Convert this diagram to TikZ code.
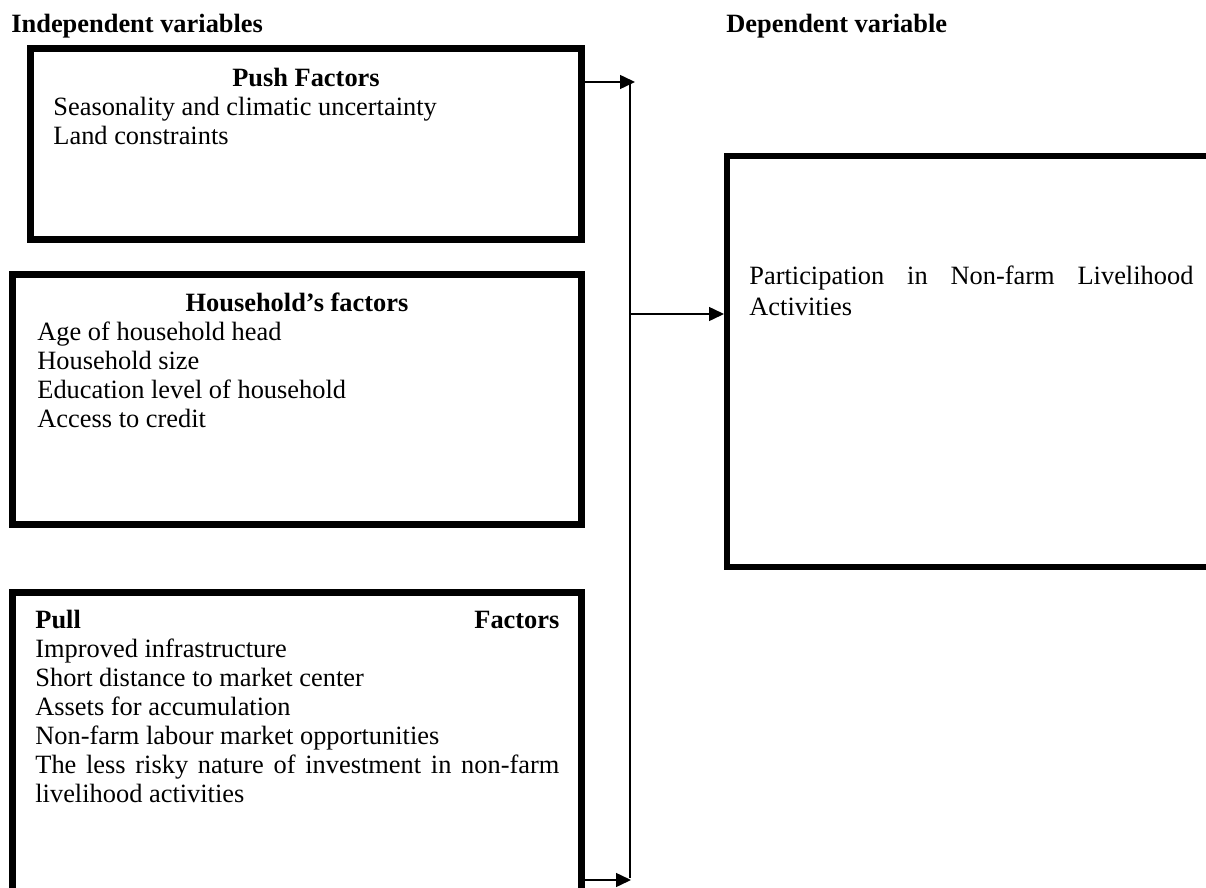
\documentclass[tikz,border=0pt]{standalone}
\usepackage{fontspec}
\setmainfont{Liberation Serif}
\usetikzlibrary{arrows.meta,calc,fit}
\begin{document}
\begin{tikzpicture}[x=0.5pt,y=-0.5pt,
  frame/.style={draw, line width=3.5pt, inner sep=0pt},
  txt/.style={anchor=base west, inner sep=0pt, font=\fontsize{13.2}{14.5}\selectfont},
  head/.style={txt, font=\fontsize{13.2}{14.5}\selectfont\bfseries},
  conn/.style={line width=0.75pt, -{Triangle[length=7.5pt,width=7pt]}},
  spine/.style={line width=0.6pt}]
\useasboundingbox (0,0) rectangle (1206,888);
\clip (0,0) rectangle (1206,888);
% boxes
\node[frame, fit={(30.5,48.5) (581.5,240)}] (push) {};
\node[frame, fit={(12,274.5) (581.5,524.5)}] (house) {};
\node[frame, fit={(12,592) (581.5,930)}] (pull) {};
\node[frame, line width=3pt, fit={(727,156) (1230,566.5)}] (result) {};
% spine and connectors
\coordinate (spinetop) at (630,80);
\coordinate (spinebot) at (630,878);
\coordinate (spinemid) at (630,314);
\coordinate (pushtip) at (635,82);
\coordinate (pulltip) at (631,880);
\draw[spine] (spinetop) -- (spinebot);
\draw[conn] (pushtip -| push.east) -- (pushtip);
\draw[conn] (pulltip -| pull.east) -- (pulltip);
\draw[conn] (spinemid) -- (spinemid -| result.west);
% headings
\node[head] (indep) at (11,33) {Independent variables};
\node[head] (dep) at (726,33) {Dependent variable};
% push
\node[head, anchor=base] (pushhead) at (306,87) {Push Factors};
\node[txt] (p1) at (53,116) {Seasonality and climatic uncertainty};
\node[txt] (p2) at (53,145) {Land constraints};
% household
\node[head, anchor=base] (hhead) at (297,311) {Household’s factors};
\node[txt] (h1) at (37,340) {Age of household head};
\node[txt] (h2) at (37,369) {Household size};
\node[txt] (h3) at (37,398) {Education level of household};
\node[txt] (h4) at (37,427) {Access to credit};
% pull
\node[txt] (pullhead) at (35,628) {\makebox[262pt]{\bfseries Pull\hfill Factors}};
\node[txt] (u1) at (35,657) {Improved infrastructure};
\node[txt] (u2) at (35,686) {Short distance to market center};
\node[txt] (u3) at (35,715) {Assets for accumulation};
\node[txt] (u4) at (35,744) {Non-farm labour market opportunities};
\node[txt] (u5) at (35,773) {\makebox[262pt][s]{The less risky nature of investment in non-farm}};
\node[txt] (u6) at (35,802) {livelihood activities};
% result
\node[txt] (r1) at (749,285) {\makebox[222pt][s]{Participation in Non-farm Livelihood}};
\node[txt] (r2) at (749,315) {Activities};
\end{tikzpicture}
\end{document}
